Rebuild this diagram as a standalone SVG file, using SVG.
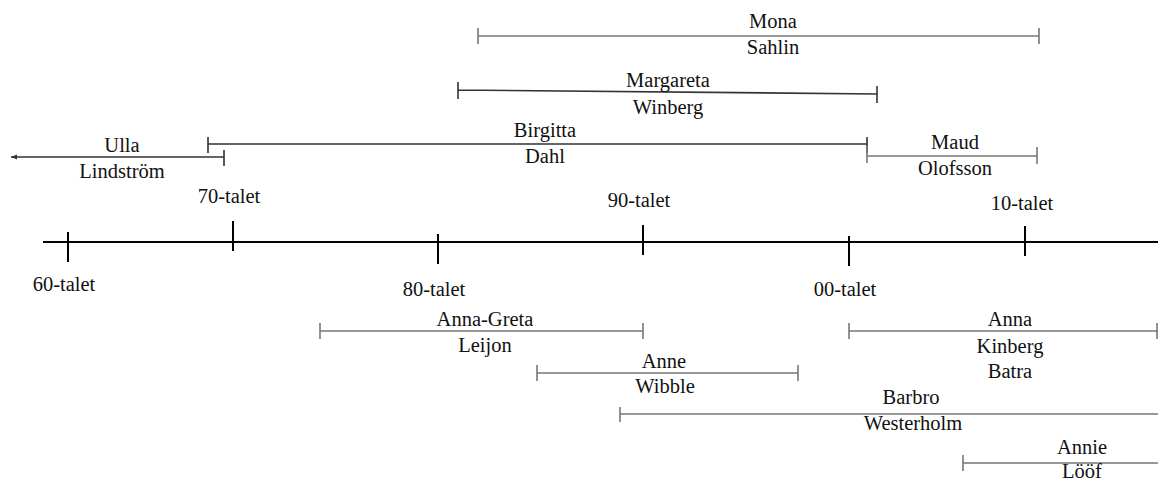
<svg xmlns="http://www.w3.org/2000/svg" width="1158" height="480" viewBox="0 0 1158 480">
<style>
text{font-family:"Liberation Serif","Times New Roman",serif;font-size:20.5px;fill:#111;text-anchor:middle}
.ax{stroke:#000;stroke-width:2;fill:none}
.sp{stroke:#777;stroke-width:1.6;fill:none}
.dk{stroke:#333;stroke-width:1.6;fill:none}
</style>
<defs>
<marker id="ah" markerWidth="8" markerHeight="6" refX="6" refY="3" orient="auto" markerUnits="userSpaceOnUse">
<path d="M0,0.5 L6,3 L0,5.5 Z" fill="#333"/>
</marker>
</defs>
<rect width="1158" height="480" fill="#fff"/>
<g id="axis">
<line class="ax" x1="43" y1="242" x2="1158" y2="242"/>
<line class="ax" x1="68" y1="232" x2="68" y2="262"/>
<line class="ax" x1="233" y1="221" x2="233" y2="251"/>
<line class="ax" x1="438" y1="234" x2="438" y2="264"/>
<line class="ax" x1="643" y1="225" x2="643" y2="255"/>
<line class="ax" x1="849" y1="236" x2="849" y2="266"/>
<line class="ax" x1="1025" y1="226" x2="1025" y2="256"/>
<text x="64" y="291">60-talet</text>
<text x="229" y="203">70-talet</text>
<text x="434" y="296">80-talet</text>
<text x="639" y="207">90-talet</text>
<text x="845" y="296">00-talet</text>
<text x="1022" y="210">10-talet</text>
</g>
<g id="connectors">
<path class="sp" d="M478,36 H1039 M478,28 V44 M1039,28 V44"/>
<path class="dk" d="M458,90 L877,94 M458,82 V99 M877,86 V103"/>
<path class="dk" d="M208,144 H867 M208,137 V153 M867,137 V153"/>
<path class="dk" d="M224,157 H11" marker-end="url(#ah)"/>
<path class="dk" d="M224,150 V166"/>
<path class="sp" d="M867,156 H1037 M867,146 V163 M1037,147 V164"/>
<path class="sp" d="M320,331 H643 M320,323 V339 M643,323 V339"/>
<path class="sp" d="M537,373 H798 M537,365 V381 M798,365 V381"/>
<path class="sp" d="M620,414 H1158 M620,407 V422"/>
<path class="sp" d="M849,331 H1158 M849,323 V339 M1157,323 V339"/>
<path class="sp" d="M963,463 H1158 M963,455 V471"/>
</g>
<g id="mona"><text x="773" y="28">Mona</text><text x="773" y="54">Sahlin</text></g>
<g id="margareta"><text x="668" y="87">Margareta</text><text x="668" y="114">Winberg</text></g>
<g id="birgitta"><text x="545" y="137">Birgitta</text><text x="545" y="163">Dahl</text></g>
<g id="ulla"><text x="122" y="152">Ulla</text><text x="122" y="178">Lindström</text></g>
<g id="maud"><text x="955" y="149">Maud</text><text x="955" y="175">Olofsson</text></g>
<g id="annagreta"><text x="485" y="326">Anna-Greta</text><text x="485" y="352">Leijon</text></g>
<g id="anne"><text x="664" y="368">Anne</text><text x="665" y="393">Wibble</text></g>
<g id="barbro"><text x="911" y="404">Barbro</text><text x="913" y="430">Westerholm</text></g>
<g id="anna"><text x="1010" y="326">Anna</text><text x="1010" y="353">Kinberg</text><text x="1010" y="378">Batra</text></g>
<g id="annie"><text x="1082" y="454">Annie</text><text x="1082" y="478">Lööf</text></g>
</svg>
